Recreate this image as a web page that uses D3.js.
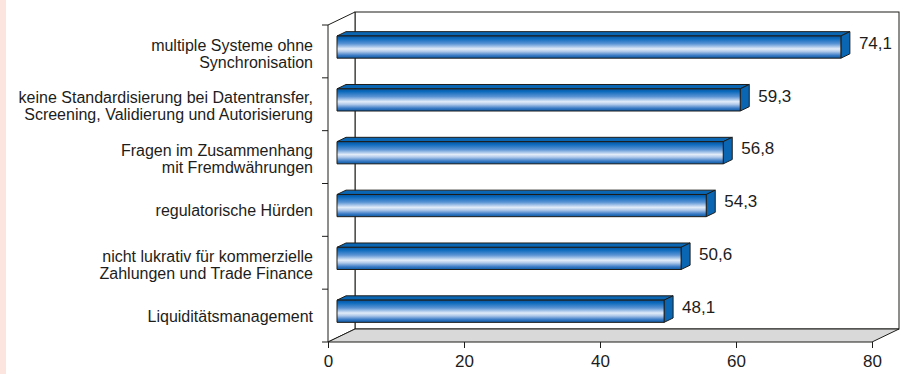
<!DOCTYPE html>
<html lang="de">
<head>
<meta charset="UTF-8">
<title>Hürden</title>
<script src="https://cdn.jsdelivr.net/npm/d3@7"></script>
<style>
  body { margin: 0; padding: 0; background: #fff; }
  svg { display: block; }
  text { font-family: "Liberation Sans", Arial, sans-serif; fill: #1d1d1b; }
  .cat { font-size: 16px; }
  .val { font-size: 17px; }
  .x-axis text { font-size: 17px; fill: #1d1d1b; }
  .x-axis line { stroke: #1d1d1b; }
</style>
</head>
<body>
<svg id="chart"></svg>
<script>
// categories (each as lines of the label), top to bottom
const categories = [
  ["multiple Systeme ohne", "Synchronisation"],
  ["keine Standardisierung bei Datentransfer,", "Screening, Validierung und Autorisierung"],
  ["Fragen im Zusammenhang", "mit Fremdwährungen"],
  ["regulatorische Hürden"],
  ["nicht lukrativ für kommerzielle", "Zahlungen und Trade Finance"],
  ["Liquiditätsmanagement"]
];
const values = [74.1, 59.3, 56.8, 54.3, 50.6, 48.1];
const xTicks = [0, 20, 40, 60, 80];

const width = 911;
const height = 374;

// 3d depth of the chart box and where bars sit inside it
const depthX = 27, depthY = -13;
const barFront = 1 / 3, barBack = 2 / 3;

const svg = d3.select("#chart").attr("width", width).attr("height", height);

// pink strip on the left edge
svg.append("rect").attr("x", 0).attr("y", 0).attr("width", 6).attr("height", height).attr("fill", "#fce4df");

const x = d3.scaleLinear().domain([0, 80]).range([328, 872]);
const yEdge = d3.scaleLinear().domain([0, categories.length]).range([25, 342]);
const y = d3.scaleBand()
  .domain(d3.range(categories.length))
  .range([25, 342])
  .paddingInner(0.58)
  .paddingOuter(0.29);

const fmt = d3.formatLocale({ decimal: ",", thousands: ".", grouping: [3], currency: ["", "€"] }).format(".1f");

// gradient for bar fronts
const grad = svg.append("defs").append("linearGradient")
  .attr("id", "barGrad").attr("x1", 0).attr("y1", 0).attr("x2", 0).attr("y2", 1);
[
  [0, "#05549c"], [0.12, "#0c6abd"], [0.35, "#5a93d4"], [0.58, "#e2ecf9"],
  [0.7, "#b0c9ea"], [0.87, "#3d7cc6"], [1, "#0a58a3"]
].forEach(s => grad.append("stop").attr("offset", s[0]).attr("stop-color", s[1]));

const x0 = x(0), x1 = x(80), yTop = yEdge(0), yBot = yEdge(categories.length);
const box = svg.append("g").attr("fill", "none").attr("stroke", "#1d1d1b").attr("stroke-width", 1);

// back wall
box.append("rect")
  .attr("x", x0 + depthX).attr("y", yTop + depthY)
  .attr("width", x1 - x0).attr("height", yBot - yTop)
  .attr("fill", "#fff");
// left wall
box.append("path")
  .attr("d", `M${x0},${yTop} L${x0 + depthX},${yTop + depthY} L${x0 + depthX},${yBot + depthY} L${x0},${yBot} Z`)
  .attr("fill", "#fff");
// floor
box.append("path")
  .attr("d", `M${x0},${yBot} L${x1},${yBot} L${x1 + depthX},${yBot + depthY} L${x0 + depthX},${yBot + depthY} Z`)
  .attr("fill", "#d9d9d9");

// y axis tick marks at category boundaries
box.selectAll("line.ytick")
  .data(d3.range(categories.length + 1))
  .enter().append("line")
  .attr("x1", x0 - 6).attr("x2", x0)
  .attr("y1", d => yEdge(d)).attr("y2", d => yEdge(d));

// x axis
const xAxis = svg.append("g")
  .attr("class", "x-axis")
  .attr("transform", `translate(0,${yBot})`)
  .call(d3.axisBottom(x).tickValues(xTicks).tickFormat(d3.format("d")).tickSize(6).tickPadding(7));
xAxis.select(".domain").remove();
xAxis.selectAll("text").attr("font-family", null).attr("font-size", null);

// bars
const fdx = depthX * barFront, fdy = depthY * barFront;
const bdx = depthX * barBack, bdy = depthY * barBack;
const bars = svg.append("g").selectAll("g.bar")
  .data(values)
  .enter().append("g")
  .attr("class", "bar")
  .attr("stroke", "#1d1d1b")
  .attr("stroke-width", 1)
  .attr("stroke-linejoin", "round");

bars.append("path") // top face
  .attr("fill", "#0a66b3")
  .attr("d", (d, i) => {
    const yy = y(i), xv = x(d);
    return `M${x0 + fdx},${yy + fdy} L${x0 + bdx},${yy + bdy} L${xv + bdx},${yy + bdy} L${xv + fdx},${yy + fdy} Z`;
  });
bars.append("path") // right face
  .attr("fill", "#0a66b3")
  .attr("d", (d, i) => {
    const yy = y(i), xv = x(d), h = y.bandwidth();
    return `M${xv + fdx},${yy + fdy} L${xv + bdx},${yy + bdy} L${xv + bdx},${yy + bdy + h} L${xv + fdx},${yy + fdy + h} Z`;
  });
bars.append("rect") // front face
  .attr("fill", "url(#barGrad)")
  .attr("x", x0 + fdx)
  .attr("y", (d, i) => y(i) + fdy)
  .attr("width", d => x(d) - x0)
  .attr("height", y.bandwidth());

// value labels
svg.append("g").selectAll("text")
  .data(values)
  .enter().append("text")
  .attr("class", "val")
  .attr("x", d => x(d) + depthX)
  .attr("y", (d, i) => y(i) + y.bandwidth() / 2 + bdy)
  .attr("dy", "0.35em")
  .text(d => fmt(d));

// category labels, centred on the band, slightly lower like the original
const lineH = 17;
const cats = svg.append("g").selectAll("text")
  .data(categories)
  .enter().append("text")
  .attr("class", "cat")
  .attr("text-anchor", "end")
  .attr("x", 313)
  .attr("y", (d, i) => y(i) + y.bandwidth() / 2 + (d.length > 1 ? 2 : 0.5));
cats.selectAll("tspan")
  .data(d => d.map((t, k) => ({ t, k, n: d.length })))
  .enter().append("tspan")
  .attr("x", 313)
  .attr("dy", d => d.k === 0 ? ((-(d.n - 1) * lineH / 2) / 16 + 0.35) + "em" : lineH + "px")
  .text(d => d.t);
</script>
</body>
</html>
